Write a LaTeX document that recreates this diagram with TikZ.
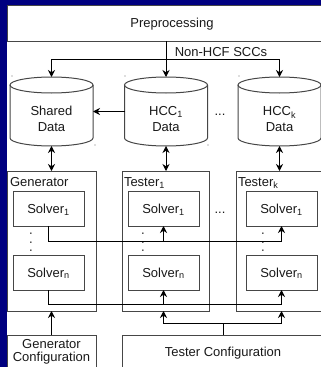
\documentclass[tikz,border=0pt]{standalone}
\usepackage{fontspec}
\setmainfont{Liberation Sans}
\usetikzlibrary{arrows.meta,calc}
\definecolor{navy}{RGB}{0,0,128}
\definecolor{ink}{RGB}{25,25,25}
\definecolor{rim}{RGB}{70,70,70}

% outline of a database drum drawn round an empty named node
\newcommand\drumline[1]{%
  \draw[rim,line width=1pt] ($(#1.north)+(0,8)$) ellipse [x radius=41.5pt, y radius=8pt];
  \draw[rim,line width=1pt] ($(#1.north west)+(0,8)$) -- ($(#1.south west)+(0,-8)$)
     arc[start angle=180, end angle=360, x radius=41.5pt, y radius=8pt]
     -- ($(#1.north east)+(0,8)$);
}

\begin{document}
\begin{tikzpicture}[x=1pt,y=-1pt,
  font=\fontsize{13}{15.3}\selectfont,
  box/.style={draw=rim,line width=1pt,inner sep=0pt,outer sep=0pt,text=ink},
  solverbox/.style={box,minimum width=71,minimum height=35,text height=9.3pt,text depth=0pt},
  unitbox/.style={box,minimum height=140},
  drum/.style={inner sep=0pt,outer sep=0pt,minimum width=83,minimum height=69},
  txt/.style={inner sep=0pt,outer sep=0pt,align=center,text=ink},
  wire/.style={draw=black,line width=1pt},
  arr/.style={wire,-{Stealth[length=7pt,width=7pt]}},
  darr/.style={wire,{Stealth[length=7pt,width=7pt]}-{Stealth[length=7pt,width=7pt]}},
  speck/.style={fill=black!55},
]
\useasboundingbox (0,0) rectangle (321,367);
\fill[navy] (0,0) rectangle (321,367);
\fill[white] (7,5) rectangle (321,367);
\clip (0,0) rectangle (321,367);

% preprocessing stage
\node[box,minimum width=330,minimum height=36,text height=9.3pt,text depth=0pt] (pre) at (172,23) {Preprocessing};

% data stores
\node[drum] (sd) at (51.5,111.5) {};
\node[drum] (h1) at (166,111.5) {};
\node[drum] (hk) at (279.5,111.5) {};
\drumline{sd}\drumline{h1}\drumline{hk}
\node[txt] (sdt) at (51.5,119) {Shared\\Data};
\node[txt] (h1t) at (166,119) {HCC\textsubscript{1}\\Data};
\node[txt] (hkt) at (279.5,119) {HCC\textsubscript{k}\\Data};
\node[txt] (ddots) at (220,115) {...};

% generator and testers
\node[unitbox,minimum width=89] (gen) at (51.5,241) {};
\node[unitbox,minimum width=87] (t1) at (166,241) {};
\node[unitbox,minimum width=87] (tk) at (279.5,241) {};
\node[txt,anchor=base west] (genl) at (10,186) {Generator};
\node[txt,anchor=base west] (t1l) at (124,186) {Tester\textsubscript{1}};
\node[txt,anchor=base west] (tkl) at (238,186) {Tester\textsubscript{k}};
\node[txt] (tdots) at (220,213) {...};

\node[solverbox] (gs1) at (48.5,208.5) {Solver\textsubscript{1}};
\node[solverbox] (gsn) at (48.5,272.5) {Solver\textsubscript{n}};
\node[solverbox] (ts1) at (163.5,208.5) {Solver\textsubscript{1}};
\node[solverbox] (tsn) at (163.5,272.5) {Solver\textsubscript{n}};
\node[solverbox] (ks1) at (281.5,208.5) {Solver\textsubscript{1}};
\node[solverbox] (ksn) at (281.5,272.5) {Solver\textsubscript{n}};
\node[txt,rotate=90] (gv) at (31,242.5) {. . .};
\node[txt,rotate=90] (tv) at (143,242.5) {. . .};
\node[txt,rotate=90] (kv) at (263,242.5) {. . .};

% configurations
\node[box,minimum width=89,minimum height=34,align=center,font=\fontsize{13}{13}\selectfont] (gc) at (51.5,352) {Generator\\Configuration};
\node[box,minimum width=202,minimum height=34,text height=9.3pt,text depth=0pt] (tc) at (223,352) {Tester Configuration};

% connectors
\coordinate (br) at (0,59);
\coordinate (bus1) at (0,241);
\coordinate (bus2) at (0,304);
\coordinate (cfg) at (0,323);

\draw[arr] (pre.south -| h1.north) -- (h1.north);
\draw[arr] (h1.north |- br) -| (sd.north);
\draw[arr] (h1.north |- br) -| (hk.north);
\node[txt] (scc) at (221,52.5) {Non-HCF SCCs};

\draw[arr] (h1.west) -- (sd.east);

\draw[darr] (sd.south) -- (gen.north);
\draw[darr] (h1.south) -- (t1.north);
\draw[darr] (hk.south) -- (tk.north);

\draw[arr] (gs1.south) |- (ks1.south |- bus1) -- (ks1.south);
\draw[arr] (ts1.south |- bus1) -- (ts1.south);
\draw[arr] (gsn.south) |- (ksn.south |- bus2) -- (ksn.south);
\draw[arr] (tsn.south |- bus2) -- (tsn.south);

\draw[arr] (gc.north) -- (gen.south);
\draw[wire] (tc.north) -- (tc.north |- cfg);
\draw[arr] (tc.north |- cfg) -| (tsn.south |- t1.south);
\draw[arr] (tc.north |- cfg) -| (ksn.south |- tk.south);

% stray corner specks
\foreach \p in {(12,76),(125,76),(239,76),(95,145),(208,145)}
  \fill[speck] \p circle (0.7pt);
\end{tikzpicture}
\end{document}
